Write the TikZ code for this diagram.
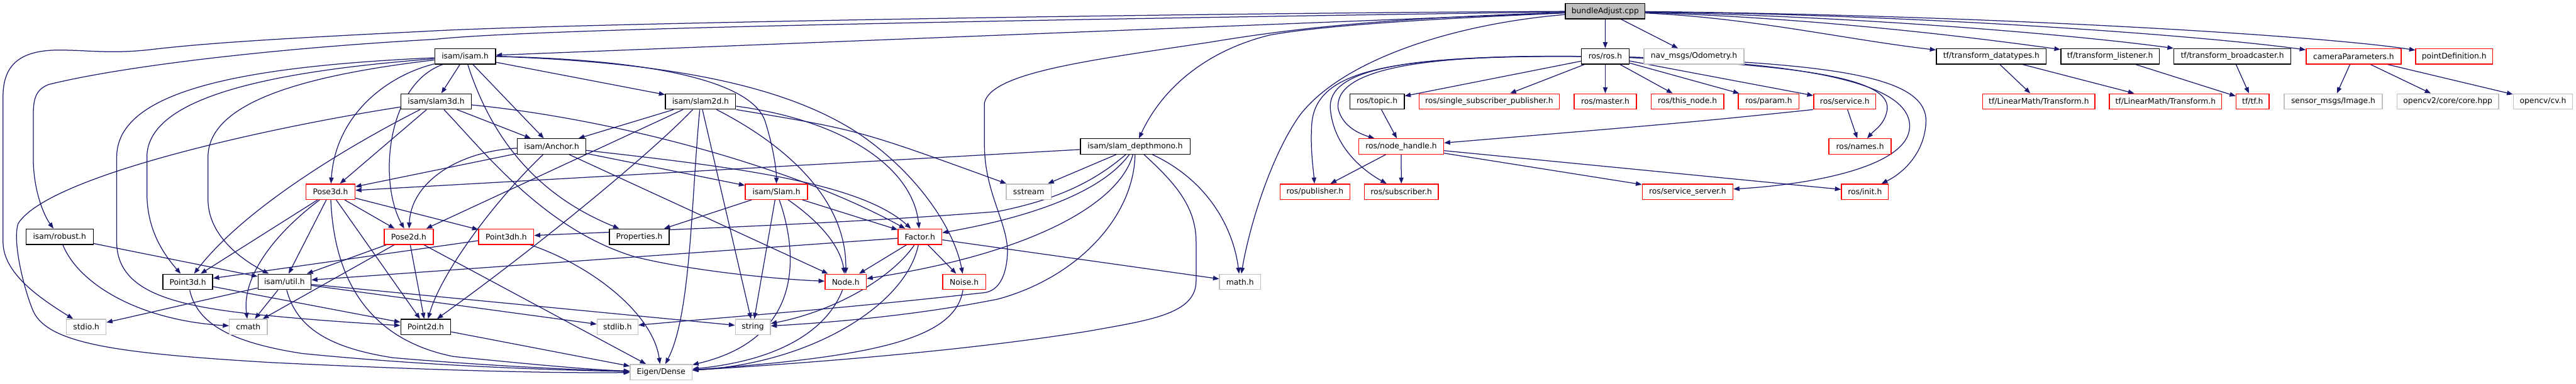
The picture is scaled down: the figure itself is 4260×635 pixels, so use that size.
\documentclass[tikz,border=0pt]{standalone}
\usepackage{fontspec}
\setmainfont{DejaVu Sans}
\usetikzlibrary{arrows.meta}
\definecolor{edgec}{HTML}{191970}
\definecolor{grayb}{HTML}{BFBFBF}
\definecolor{redb}{HTML}{FF0000}
\pgfdeclarelayer{bglayer}
\pgfsetlayers{bglayer,main}
\begin{document}
\begin{tikzpicture}[x=1pt,y=-1pt,
  nbox/.style={rectangle, draw, line width=1.4pt, minimum height=25.5pt, inner sep=0pt,
    font=\fontsize{12.8pt}{15pt}\selectfont, fill=white},
  bk/.style={nbox, draw=black},
  rd/.style={nbox, draw=redb},
  gr/.style={nbox, draw=grayb},
  root/.style={nbox, draw=black, fill=grayb},
  conn/.style={draw=edgec, line width=1.3pt, -{Triangle[length=10pt,width=7.5pt]}}
]
\useasboundingbox (0,0) rectangle (4260,635);

% row 1
\node[root, minimum width=131.8pt] (BA) at (2654.5,18.5) {bundleAdjust.cpp};
% row 2
\node[bk, minimum width=100.4pt] (isam) at (769.2,93.3) {isam/isam.h};
\node[bk, minimum width=79pt] (ros) at (2654.7,93.3) {ros/ros.h};
\node[gr, minimum width=165.5pt] (nav) at (2801.3,93.3) {nav\_msgs/Odometry.h};
\node[bk, minimum width=181.8pt] (tfdt) at (3293.1,93.3) {tf/transform\_datatypes.h};
\node[bk, minimum width=162.8pt] (tfl) at (3489.4,93.3) {tf/transform\_listener.h};
\node[bk, minimum width=193.4pt] (tfb) at (3691.7,93.3) {tf/transform\_broadcaster.h};
\node[rd, minimum width=157.1pt] (cam) at (3892.2,93.3) {cameraParameters.h};
\node[rd, minimum width=127pt] (ptdef) at (4058.4,93.3) {pointDefinition.h};
% row 3
\node[bk, minimum width=116.3pt] (s3d) at (721.2,167.9) {isam/slam3d.h};
\node[bk, minimum width=116.2pt] (s2d) at (1158.5,167.9) {isam/slam2d.h};
\node[bk, minimum width=90pt] (topic) at (2277.2,167.9) {ros/topic.h};
\node[rd, minimum width=231.9pt] (ssp) at (2462.6,167.9) {ros/single\_subscriber\_publisher.h};
\node[rd, minimum width=102.8pt] (master) at (2654.7,167.9) {ros/master.h};
\node[rd, minimum width=120.1pt] (thisnode) at (2790.5,167.9) {ros/this\_node.h};
\node[rd, minimum width=100.2pt] (param) at (2924.9,167.9) {ros/param.h};
\node[rd, minimum width=102.8pt] (service) at (3050.7,167.9) {ros/service.h};
\node[rd, minimum width=185.4pt] (lmA) at (3371.7,167.9) {tf/LinearMath/Transform.h};
\node[rd, minimum width=185.7pt] (lmB) at (3581.2,167.9) {tf/LinearMath/Transform.h};
\node[rd, minimum width=54.7pt] (tftf) at (3725.2,167.9) {tf/tf.h};
\node[gr, minimum width=162.4pt] (senimg) at (3858.5,167.9) {sensor\_msgs/Image.h};
\node[gr, minimum width=168.2pt] (ocvcore) at (4048,167.9) {opencv2/core/core.hpp};
\node[gr, minimum width=98pt] (ocv) at (4205.3,167.9) {opencv/cv.h};
% row 4
\node[bk, minimum width=112.9pt] (anchor) at (912.2,242.4) {isam/Anchor.h};
\node[rd, minimum width=140.5pt] (nh) at (2317.2,242.4) {ros/node\_handle.h};
\node[bk, minimum width=181.4pt] (dm) at (1877.3,242.4) {isam/slam\_depthmono.h};
\node[rd, minimum width=102.9pt] (names) at (3076,242.4) {ros/names.h};
% row 5
\node[rd, minimum width=81pt] (pose3d) at (546.5,317.3) {Pose3d.h};
\node[rd, minimum width=102.9pt] (slam) at (1284,317.3) {isam/Slam.h};
\node[gr, minimum width=74.4pt] (sstream) at (1701.2,317.3) {sstream};
\node[rd, minimum width=115.2pt] (pub) at (2174.6,317.3) {ros/publisher.h};
\node[rd, minimum width=122.6pt] (sub) at (2317.4,317.3) {ros/subscriber.h};
\node[rd, minimum width=149.9pt] (ssrv) at (2790.8,317.3) {ros/service\_server.h};
\node[rd, minimum width=77.6pt] (init) at (3084,317.3) {ros/init.h};
% row 6
\node[bk, minimum width=111.3pt] (robust) at (98.5,391.7) {isam/robust.h};
\node[rd, minimum width=81.2pt] (pose2d) at (675.9,391.7) {Pose2d.h};
\node[rd, minimum width=91.2pt] (p3dh) at (837.1,391.7) {Point3dh.h};
\node[bk, minimum width=99.1pt] (props) at (1057.2,391.7) {Properties.h};
\node[rd, minimum width=72.5pt] (factor) at (1521.3,391.7) {Factor.h};
% row 7
\node[bk, minimum width=82.2pt] (p3d) at (310.6,466.4) {Point3d.h};
\node[bk, minimum width=87.6pt] (util) at (470.5,466.4) {isam/util.h};
\node[rd, minimum width=68.2pt] (nodeh) at (1398.5,466.4) {Node.h};
\node[rd, minimum width=71.1pt] (noise) at (1594.5,466.4) {Noise.h};
\node[gr, minimum width=67.9pt] (mathh) at (2050.7,466.4) {math.h};
% row 8
\node[gr, minimum width=65.3pt] (stdio) at (142.7,541.1) {stdio.h};
\node[gr, minimum width=62.7pt] (cmath) at (410.6,541.1) {cmath};
\node[bk, minimum width=82.6pt] (p2d) at (704,541.1) {Point2d.h};
\node[gr, minimum width=67.5pt] (stdlib) at (1021.2,541.1) {stdlib.h};
\node[gr, minimum width=57.9pt] (strg) at (1245,541.1) {string};
% row 9
\node[gr, minimum width=102.4pt] (eigen) at (1093.3,615.8) {Eigen/Dense};

\begin{pgfonlayer}{bglayer}
% bundleAdjust.cpp
\draw[conn] (BA) -- (isam);
\draw[conn] (BA) .. controls (1900,30) and (900,45) .. (720,65) .. controls (450,80) and (200,110) .. (80,140) .. controls (55,150) and (55,170) .. (55,200) -- (55,260) .. controls (55,320) and (75,360) .. (robust);
\draw[conn] (BA) .. controls (1900,22) and (900,40) .. (700,52) .. controls (500,62) and (350,70) .. (250,82) .. controls (180,90) and (140,82) .. (90,83) .. controls (30,85) and (5,110) .. (5,160) -- (5,400) .. controls (5,450) and (60,490) .. (stdio);
\draw[conn] (BA) .. controls (2300,30) and (2150,45) .. (2000,70) .. controls (1800,100) and (1640,120) .. (1628,170) -- (1628,240) .. controls (1628,320) and (1668,370) .. (1666,420) .. controls (1664,460) and (1650,480) .. (1630,484) .. controls (1400,510) and (1200,525) .. (stdlib);
\draw[conn] (BA) .. controls (2400,30) and (2200,40) .. (2100,58) .. controls (1990,85) and (1920,150) .. (dm);
\draw[conn] (BA) .. controls (2400,40) and (2220,100) .. (2150,190) .. controls (2100,260) and (2065,380) .. (mathh);
\draw[conn] (BA) -- (ros);
\draw[conn] (BA) -- (nav);
\draw[conn] (BA) .. controls (2900,30) and (3050,65) .. (tfdt);
\draw[conn] (BA) .. controls (3000,30) and (3250,60) .. (tfl);
\draw[conn] (BA) .. controls (3100,28) and (3450,60) .. (tfb);
\draw[conn] (BA) .. controls (3200,25) and (3650,60) .. (cam);
\draw[conn] (BA) .. controls (3300,25) and (3850,60) .. (ptdef);
% ros/ros.h
\draw[conn] (ros) -- (topic);
\draw[conn] (ros) -- (ssp);
\draw[conn] (ros) -- (master);
\draw[conn] (ros) -- (thisnode);
\draw[conn] (ros) -- (param);
\draw[conn] (ros) -- (service);
\draw[conn] (ros) .. controls (2950,108) and (3125,125) .. (3121,180) .. controls (3118,205) and (3100,215) .. (names);
\draw[conn] (ros) .. controls (3000,105) and (3160,140) .. (3158,210) .. controls (3156,275) and (3000,305) .. (ssrv);
\draw[conn] (ros) .. controls (3050,105) and (3185,130) .. (3185,200) .. controls (3184,250) and (3150,285) .. (init);
\draw[conn] (ros.west) .. controls (2350,90) and (2205,115) .. (2213,180) .. controls (2220,210) and (2250,222) .. (nh);
\draw[conn] (ros.west) .. controls (2280,92) and (2172,120) .. (2169,210) .. controls (2167,250) and (2172,280) .. (pub);
\draw[conn] (ros.west) .. controls (2320,91) and (2195,115) .. (2200,180) .. controls (2205,240) and (2250,280) .. (sub);
\draw[conn] (topic) -- (nh);
\draw[conn] (service) -- (names);
\draw[conn] (service.south west) .. controls (2800,202) .. (nh);
\draw[conn] (nh) -- (pub);
\draw[conn] (nh) -- (sub);
\draw[conn] (nh) -- (ssrv);
\draw[conn] (nh) -- (init);
% tf and camera
\draw[conn] (tfdt) -- (lmA);
\draw[conn] (tfdt) -- (lmB);
\draw[conn] (tfl) -- (tftf);
\draw[conn] (tfb) -- (tftf);
\draw[conn] (cam) -- (senimg);
\draw[conn] (cam) -- (ocvcore);
\draw[conn] (cam) -- (ocv);
% isam/isam.h
\draw[conn] (isam) -- (s3d);
\draw[conn] (isam) -- (anchor);
\draw[conn] (isam) -- (s2d);
\draw[conn] (isam) .. controls (810,220) and (880,320) .. (props);
\draw[conn] (isam.east) .. controls (1050,98) and (1240,128) .. (1265,200) .. controls (1278,240) and (1284,280) .. (slam);
\draw[conn] (isam.east) .. controls (1100,103) and (1300,140) .. (1423,223) .. controls (1520,290) and (1578,380) .. (noise);
\draw[conn] (isam) .. controls (640,125) and (555,190) .. (pose3d);
\draw[conn] (isam) .. controls (640,140) and (625,300) .. (pose2d);
\draw[conn] (isam) .. controls (400,110) and (193,150) .. (193,260) -- (193,400) .. controls (193,480) and (280,505) .. (420,520) .. controls (520,530) and (600,535) .. (p2d);
\draw[conn] (isam) .. controls (450,118) and (243,160) .. (243,260) -- (243,320) .. controls (243,380) and (270,420) .. (p3d);
\draw[conn] (isam) .. controls (500,125) and (344,170) .. (344,260) -- (344,330) .. controls (344,390) and (400,430) .. (util);
% isam/slam3d.h
\draw[conn] (s3d) -- (pose3d);
\draw[conn] (s3d) .. controls (560,250) and (400,350) .. (p3d);
\draw[conn] (s3d) .. controls (450,210) and (80,290) .. (30,370) .. controls (20,400) and (40,480) .. (55,515) .. controls (80,570) and (200,585) .. (450,600) .. controls (700,612) and (900,618) .. (eigen);
\draw[conn] (s3d) -- (anchor);
\draw[conn] (s3d) .. controls (800,250) and (900,380) .. (1050,425) .. controls (1150,450) and (1300,463) .. (nodeh);
\draw[conn] (s3d) .. controls (1000,195) and (1300,270) .. (factor);
% isam/slam2d.h
\draw[conn] (s2d) -- (anchor);
\draw[conn] (s2d) -- (pose2d);
\draw[conn] (s2d) .. controls (1080,250) and (900,400) .. (p2d);
\draw[conn] (s2d) .. controls (1143,330) and (1143,520) .. (eigen);
\draw[conn] (s2d) -- (strg);
\draw[conn] (s2d) .. controls (1300,240) and (1400,330) .. (nodeh);
\draw[conn] (s2d) .. controls (1400,200) and (1510,280) .. (factor);
\draw[conn] (s2d.south east) .. controls (1420,215) .. (sstream);
% isam/Anchor.h
\draw[conn] (anchor) -- (pose3d);
\draw[conn] (anchor) .. controls (760,250) and (680,300) .. (pose2d);
\draw[conn] (anchor) .. controls (820,330) and (730,450) .. (p2d);
\draw[conn] (anchor) -- (slam);
\draw[conn] (anchor) -- (nodeh);
\draw[conn] (anchor) .. controls (1200,275) and (1420,300) .. (factor);
% Pose3d.h
\draw[conn] (pose3d) -- (p3d);
\draw[conn] (pose3d) .. controls (450,390) and (400,460) .. (cmath);
\draw[conn] (pose3d) -- (util);
\draw[conn] (pose3d) -- (pose2d);
\draw[conn] (pose3d) -- (p2d);
\draw[conn] (pose3d) .. controls (552,450) and (600,560) .. (750,590) .. controls (900,605) and (980,612) .. (eigen);
\draw[conn] (pose3d) -- (p3dh);
% Pose2d.h
\draw[conn] (pose2d) -- (util);
\draw[conn] (pose2d) -- (cmath);
\draw[conn] (pose2d) -- (p2d);
\draw[conn] (pose2d) -- (eigen);
% Point3dh.h
\draw[conn] (p3dh) -- (p3d);
\draw[conn] (p3dh) .. controls (980,440) and (1080,520) .. (eigen);
% isam/Slam.h
\draw[conn] (slam) -- (props);
\draw[conn] (slam) -- (strg);
\draw[conn] (slam) .. controls (1320,420) and (1330,560) .. (eigen);
\draw[conn] (slam) .. controls (1360,370) and (1390,410) .. (nodeh);
\draw[conn] (slam) -- (factor);
% Factor.h
\draw[conn] (factor) -- (util);
\draw[conn] (factor) -- (nodeh);
\draw[conn] (factor) -- (noise);
\draw[conn] (factor) -- (mathh);
\draw[conn] (factor) .. controls (1475,460) and (1380,515) .. (strg);
\draw[conn] (factor) .. controls (1500,500) and (1350,600) .. (eigen);
% Node.h, Noise.h
\draw[conn] (nodeh) .. controls (1370,540) and (1300,595) .. (eigen);
\draw[conn] (noise) .. controls (1580,560) and (1450,590) .. (eigen);
% isam/slam_depthmono.h
\draw[conn] (dm) -- (pose3d);
\draw[conn] (dm) -- (sstream);
\draw[conn] (dm) .. controls (1810,300) and (1750,330) .. (1650,350) .. controls (1400,370) and (1100,380) .. (p3dh);
\draw[conn] (dm) .. controls (1820,320) and (1700,360) .. (factor);
\draw[conn] (dm) .. controls (1850,340) and (1700,420) .. (nodeh);
\draw[conn] (dm) .. controls (1875,360) and (1780,460) .. (1650,495) .. controls (1500,525) and (1350,535) .. (strg);
\draw[conn] (dm) .. controls (1940,300) and (1978,340) .. (1978,400) -- (1978,465) .. controls (1978,520) and (1900,530) .. (1800,548) .. controls (1600,580) and (1350,600) .. (eigen);
\draw[conn] (dm) .. controls (2000,300) and (2040,380) .. (mathh);
% isam/robust.h
\draw[conn] (robust) -- (util);
\draw[conn] (robust) .. controls (130,470) and (230,530) .. (cmath);
% Point3d.h
\draw[conn] (p3d) -- (p2d);
\draw[conn] (p3d) .. controls (325,530) and (370,565) .. (500,585) .. controls (700,605) and (900,612) .. (eigen);
% isam/util.h
\draw[conn] (util) -- (stdio);
\draw[conn] (util) -- (cmath);
\draw[conn] (util) .. controls (490,540) and (540,575) .. (650,592) .. controls (800,605) and (950,612) .. (eigen);
\draw[conn] (util) -- (stdlib);
\draw[conn] (util) -- (strg);
% Point2d.h
\draw[conn] (p2d) -- (eigen);
\end{pgfonlayer}
\end{tikzpicture}
\end{document}
